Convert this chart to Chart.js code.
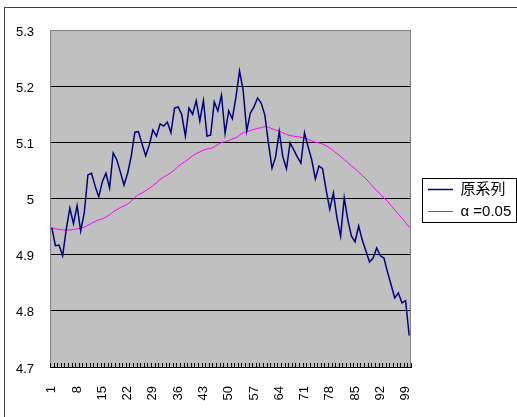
<!DOCTYPE html>
<html><head><meta charset="utf-8">
<script src="https://cdn.jsdelivr.net/npm/chart.js@4.4.0/dist/chart.umd.min.js"></script>
<style>html,body{margin:0;padding:0;background:#fff;}#wrap{position:relative;width:517px;height:417px;}</style>
</head><body><div id="wrap"><canvas id="c" width="517" height="417"></canvas></div>
<script>
const categories = [1,2,3,4,5,6,7,8,9,10,11,12,13,14,15,16,17,18,19,20,21,22,23,24,25,26,27,28,29,30,31,32,33,34,35,36,37,38,39,40,41,42,43,44,45,46,47,48,49,50,51,52,53,54,55,56,57,58,59,60,61,62,63,64,65,66,67,68,69,70,71,72,73,74,75,76,77,78,79,80,81,82,83,84,85,86,87,88,89,90,91,92,93,94,95,96,97,98,99,100];
const xTickLabels = [1,8,15,22,29,36,43,50,57,64,71,78,85,92,99];
const seriesNames = ['原系列', 'α =0.05'];
const originalSeries = [4.948,4.916,4.917,4.898,4.945,4.983,4.955,4.987,4.942,4.975,
5.042,5.045,5.022,5.003,5.030,5.045,5.019,5.081,5.069,5.047,
5.024,5.045,5.075,5.118,5.119,5.097,5.076,5.095,5.122,5.111,
5.133,5.129,5.136,5.117,5.161,5.163,5.149,5.111,5.161,5.150,
5.174,5.138,5.174,5.111,5.113,5.172,5.156,5.184,5.116,5.156,
5.142,5.180,5.227,5.193,5.120,5.152,5.163,5.179,5.170,5.149,
5.099,5.054,5.074,5.119,5.074,5.053,5.099,5.087,5.074,5.063,
5.117,5.092,5.069,5.035,5.058,5.053,5.015,4.981,5.010,4.965,
4.933,5.001,4.962,4.933,4.923,4.951,4.926,4.907,4.887,4.894,
4.912,4.898,4.894,4.869,4.846,4.823,4.832,4.814,4.818,4.756];
const smoothedSeries = [4.948,4.946,4.945,4.944,4.944,4.944,4.945,4.946,4.947,4.949,
4.952,4.956,4.959,4.962,4.964,4.967,4.971,4.976,4.980,4.984,
4.987,4.990,4.995,5.002,5.007,5.010,5.014,5.018,5.023,5.028,
5.034,5.038,5.042,5.046,5.051,5.057,5.062,5.066,5.071,5.076,
5.080,5.083,5.086,5.088,5.089,5.092,5.096,5.100,5.101,5.103,
5.106,5.108,5.113,5.117,5.119,5.121,5.123,5.125,5.126,5.128,
5.127,5.124,5.122,5.120,5.117,5.114,5.112,5.111,5.110,5.109,
5.108,5.105,5.103,5.100,5.099,5.097,5.094,5.090,5.085,5.080,
5.075,5.069,5.064,5.058,5.053,5.047,5.041,5.035,5.028,5.021,
5.014,5.008,5.001,4.995,4.987,4.980,4.972,4.965,4.957,4.949];
const yMin = 4.7, yMax = 5.3, yStep = 0.1;

const frame = {
  id: 'frame',
  afterLayout(chart) {
    const lg = chart.legend, a = chart.chartArea;
    if (lg) { lg.left += 10; lg.right += 10; lg.top = a.top + 2; lg.bottom = a.bottom + 2; }
  },
  beforeDraw(chart) {
    const ctx = chart.ctx, a = chart.chartArea;
    ctx.save();
    ctx.fillStyle = '#fff';
    ctx.fillRect(0, 0, chart.width, chart.height);
    ctx.strokeStyle = '#404040';
    ctx.lineWidth = 1;
    ctx.strokeRect(4.5, 7.5, 800, 800);
    ctx.fillStyle = '#C0C0C0';
    ctx.fillRect(a.left, a.top, a.right - a.left, a.bottom - a.top);
    ctx.restore();
  },
  beforeDatasetsDraw(chart) {
    const ctx = chart.ctx, a = chart.chartArea, xs = chart.scales.x;
    ctx.save();
    ctx.lineWidth = 1;
    ctx.strokeStyle = '#808080';
    ctx.beginPath();
    ctx.moveTo(a.left + 0.5, a.bottom);
    ctx.lineTo(a.left + 0.5, a.top + 0.5);
    ctx.lineTo(a.right - 0.5, a.top + 0.5);
    ctx.lineTo(a.right - 0.5, a.bottom);
    ctx.stroke();
    ctx.strokeStyle = '#000';
    ctx.beginPath();
    for (let i = 0; i <= categories.length; i++) {
      const px = Math.round(xs.getPixelForValue(i - 0.5)) + 0.5;
      ctx.moveTo(px, a.bottom - 4);
      ctx.lineTo(px, a.bottom);
    }
    ctx.stroke();
    ctx.restore();
  },
  afterDraw(chart) {
    const ctx = chart.ctx, lg = chart.legend, a = chart.chartArea;
    const cy = (a.top + a.bottom) / 2;
    ctx.save();
    ctx.strokeStyle = '#000';
    ctx.lineWidth = 1;
    ctx.strokeRect(Math.round(lg.left) + 1.5, Math.round(cy - 21) + 0.5, 94, 44);
    ctx.restore();
  }
};

new Chart(document.getElementById('c'), {
  type: 'line',
  data: {
    labels: categories,
    datasets: [
      { label: seriesNames[0], data: originalSeries, borderColor: '#000080', backgroundColor: '#000080', borderWidth: 1.5, pointRadius: 0, tension: 0, fill: false },
      { label: seriesNames[1], data: smoothedSeries, borderColor: '#FF00FF', backgroundColor: '#FF00FF', borderWidth: 1, pointRadius: 0, tension: 0, fill: false }
    ]
  },
  options: {
    responsive: false,
    animation: false,
    devicePixelRatio: 1,
    layout: { padding: { left: 0, top: 30, right: 10, bottom: 0 } },
    plugins: {
      legend: {
        position: 'right',
        maxWidth: 96,
        labels: {
          usePointStyle: true,
          pointStyle: 'line',
          pointStyleWidth: 25,
          padding: 7,
          color: '#000',
          font: { family: '"Liberation Sans", "Noto Sans CJK JP", sans-serif', size: 15 }
        }
      },
      tooltip: { enabled: false }
    },
    scales: {
      x: {
        type: 'category',
        offset: true,
        grid: { display: false, drawTicks: false },
        border: { display: true, color: '#000', width: 1 },
        ticks: {
          autoSkip: false,
          minRotation: 90,
          maxRotation: 90,
          padding: 19,
          color: '#000',
          font: { family: '"Liberation Sans", sans-serif', size: 13 },
          callback: function (v, i) { const l = categories[i]; return xTickLabels.includes(l) ? String(l) : ''; }
        },
        afterFit: function (s) { s.height = 50; }
      },
      y: {
        min: yMin,
        max: yMax,
        grid: {
          drawTicks: false,
          color: function (c) { return Math.abs(c.tick.value - yMax) < 1e-9 ? '#808080' : '#000'; },
          lineWidth: 1
        },
        border: { display: false },
        ticks: {
          stepSize: yStep,
          padding: 16,
          labelOffset: 2,
          color: '#000',
          font: { family: '"Liberation Sans", sans-serif', size: 13 },
          callback: function (v) { return String(Number(v.toFixed(1))); }
        },
        afterFit: function (s) { s.width = 50; }
      }
    }
  },
  plugins: [frame]
});
</script>
</body></html>
